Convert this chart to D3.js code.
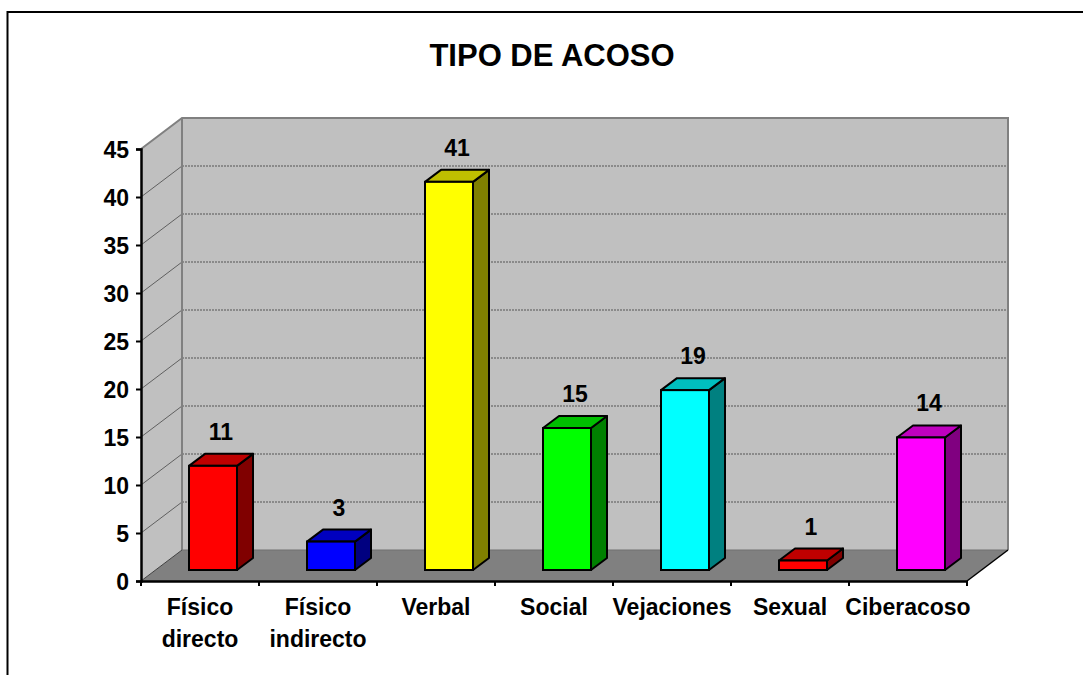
<!DOCTYPE html>
<html>
<head>
<meta charset="utf-8">
<script src="https://d3js.org/d3.v7.min.js"></script>
<title>Tipo de acoso</title>
<style type="text/css">
body { margin:0; background:#fff; }
svg text { font-family: Arial, "Liberation Sans", sans-serif; font-weight:bold; fill:#000; }
</style>
</head>
<body>
<svg id="chart"></svg>
<script>
// data
var categories = ["Físico directo", "Físico indirecto", "Verbal", "Social", "Vejaciones", "Sexual", "Ciberacoso"];
var values = [11, 3, 41, 15, 19, 1, 14];
var barColors = ["#ff0000", "#0000ff", "#ffff00", "#00ff00", "#00ffff", "#ff0000", "#ff00ff"];
var yTicks = [0, 5, 10, 15, 20, 25, 30, 35, 40, 45];

var width = 1083, height = 675;
var svg = d3.select("#chart").attr("width", width).attr("height", height);

// outer chart border
svg.append("rect")
  .attr("x", 7.5).attr("y", 12)
  .attr("width", width).attr("height", height)
  .attr("fill", "#fff").attr("stroke", "#000").attr("stroke-width", 2);

svg.append("text")
  .attr("x", 552).attr("y", 66)
  .attr("text-anchor", "middle")
  .style("font-size", "31px")
  .text("TIPO DE ACOSO");

// 3d box geometry
var x0 = 141, x1 = 967;
var depthX = 41, depthY = -31;

var x = d3.scaleBand().domain(categories).range([x0, x1]);
var y = d3.scaleLinear().domain([0, 45]).range([581, 149]);
// bars sit a bit into the box, slightly foreshortened
var yBar = d3.scaleLinear().domain([0, 45]).range([570, 144]);

var wall = svg.append("g");

// back wall
wall.append("rect")
  .attr("x", x0 + depthX).attr("y", y(45) + depthY)
  .attr("width", x1 - x0).attr("height", y(0) - y(45))
  .attr("fill", "#c0c0c0");

// left wall
wall.append("path")
  .attr("d", d3.line()([[x0, y(0)], [x0, y(45)], [x0 + depthX, y(45) + depthY], [x0 + depthX, y(0) + depthY]]))
  .attr("fill", "#c0c0c0");

// floor
wall.append("path")
  .attr("d", d3.line()([[x0, y(0)], [x0 + depthX, y(0) + depthY], [x1 + depthX, y(0) + depthY], [x1, y(0)]]))
  .attr("fill", "#808080");

// gridlines
wall.selectAll(".gback")
  .data(yTicks.filter(function(d) { return d > 0 && d < 45; }))
  .enter().append("line")
  .attr("x1", x0 + depthX).attr("x2", x1 + depthX)
  .attr("y1", function(d) { return y(d) + depthY; })
  .attr("y2", function(d) { return y(d) + depthY; })
  .attr("stroke", "#555").attr("stroke-width", 1)
  .attr("stroke-dasharray", "2,1");

wall.selectAll(".gside")
  .data(yTicks.filter(function(d) { return d > 0 && d < 45; }))
  .enter().append("line")
  .attr("x1", x0).attr("x2", x0 + depthX)
  .attr("y1", function(d) { return y(d); })
  .attr("y2", function(d) { return y(d) + depthY; })
  .attr("stroke", "#606060").attr("stroke-width", 1);

// wall edges
var edge = "#808080";
wall.append("path")
  .attr("d", d3.line()([[x0, y(45)], [x0 + depthX, y(45) + depthY], [x1 + depthX, y(45) + depthY], [x1 + depthX, y(0) + depthY]]))
  .attr("fill", "none").attr("stroke", edge).attr("stroke-width", 2);
wall.append("line")
  .attr("x1", x0 + depthX).attr("x2", x0 + depthX)
  .attr("y1", y(45) + depthY).attr("y2", y(0) + depthY)
  .attr("stroke", edge).attr("stroke-width", 2);
wall.append("line")
  .attr("x1", x0 + depthX).attr("x2", x1 + depthX)
  .attr("y1", y(0) + depthY).attr("y2", y(0) + depthY)
  .attr("stroke", "#707070").attr("stroke-width", 1);
wall.append("line")
  .attr("x1", x0).attr("x2", x0 + depthX)
  .attr("y1", y(0)).attr("y2", y(0) + depthY)
  .attr("stroke", "#404040").attr("stroke-width", 1);
wall.append("line")
  .attr("x1", x1).attr("x2", x1 + depthX)
  .attr("y1", y(0)).attr("y2", y(0) + depthY)
  .attr("stroke", "#000").attr("stroke-width", 1.5);

// axes
var yAxis = svg.append("g")
  .attr("transform", "translate(" + x0 + ",0)")
  .call(d3.axisLeft(y).tickValues(yTicks).tickSize(5).tickPadding(7));
yAxis.select(".domain").attr("stroke-width", 2.5);
yAxis.selectAll(".tick line").attr("stroke-width", 2);
yAxis.selectAll("text").style("font-size", "23px").attr("dy", "0.36em");

var xAxis = svg.append("g")
  .attr("transform", "translate(0," + y(0) + ")")
  .call(d3.axisBottom(x).tickSize(0).tickFormat(""));
xAxis.select(".domain").attr("stroke-width", 2.5);

// category boundary ticks
svg.append("g").selectAll("line")
  .data(categories.concat([null]))
  .enter().append("line")
  .attr("x1", function(d, i) { return x0 + i * x.bandwidth(); })
  .attr("x2", function(d, i) { return x0 + i * x.bandwidth(); })
  .attr("y1", y(0)).attr("y2", y(0) + 5)
  .attr("stroke", "#000").attr("stroke-width", 2);

// category labels, split on the first space
svg.append("g").selectAll("text")
  .data(categories)
  .enter().append("text")
  .attr("text-anchor", "middle")
  .style("font-size", "23px")
  .each(function(d) {
    var lines = d.split(" ");
    var t = d3.select(this);
    lines.forEach(function(l, i) {
      t.append("tspan")
        .attr("x", x(d) + x.bandwidth() / 2)
        .attr("y", 615 + i * 32)
        .text(l);
    });
  });

// bars
var barW = 48, sideX = 16, sideY = -12, shiftX = 13;
var bars = svg.append("g").selectAll("g")
  .data(values)
  .enter().append("g");

bars.each(function(v, i) {
  var g = d3.select(this);
  var c = d3.color(barColors[i]);
  var left = x(categories[i]) + (x.bandwidth() - barW) / 2 + shiftX;
  var right = left + barW;
  var top = yBar(v), bot = yBar(0);
  var topCol = d3.rgb(c.r * 0.75, c.g * 0.75, c.b * 0.75);
  var sideCol = d3.rgb(c.r * 0.5, c.g * 0.5, c.b * 0.5);

  g.append("path")
    .attr("d", d3.line()([[right, bot], [right + sideX, bot + sideY], [right + sideX, top + sideY], [right, top]]) + "Z")
    .attr("fill", sideCol).attr("stroke", "#000").attr("stroke-width", 2).attr("stroke-linejoin", "round");
  g.append("path")
    .attr("d", d3.line()([[left, top], [left + sideX, top + sideY], [right + sideX, top + sideY], [right, top]]) + "Z")
    .attr("fill", topCol).attr("stroke", "#000").attr("stroke-width", 2).attr("stroke-linejoin", "round");
  g.append("rect")
    .attr("x", left).attr("y", top)
    .attr("width", barW).attr("height", bot - top)
    .attr("fill", c).attr("stroke", "#000").attr("stroke-width", 2);

  g.append("text")
    .attr("x", left + barW / 2 + sideX / 2)
    .attr("y", top + sideY - 14)
    .attr("text-anchor", "middle")
    .style("font-size", "23px")
    .text(v);
});
</script>
</body>
</html>
